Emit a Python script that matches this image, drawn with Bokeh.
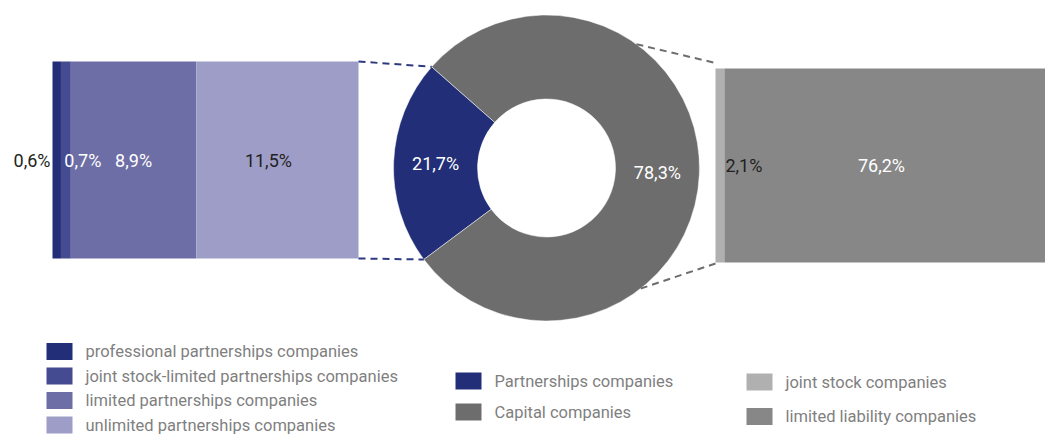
import math
from bokeh.plotting import figure
from bokeh.models import Range1d
from bokeh.core.properties import value
from bokeh.embed import file_html
from bokeh.resources import INLINE

# ---------------- data ----------------
partner_labels = ["professional partnerships companies",
                  "joint stock-limited partnerships companies",
                  "limited partnerships companies",
                  "unlimited partnerships companies"]
partner_values = [0.6, 0.7, 8.9, 11.5]
partner_text = ["0,6%", "0,7%", "8,9%", "11,5%"]

main_labels = ["Partnerships companies", "Capital companies"]
main_values = [21.7, 78.3]
main_text = ["21,7%", "78,3%"]

capital_labels = ["joint stock companies", "limited liability companies"]
capital_values = [2.1, 76.2]
capital_text = ["2,1%", "76,2%"]

# ---------------- style ----------------
partner_colors = ["#222f78", "#454b91", "#6e6ea6", "#9e9dc8"]
main_colors = ["#222f78", "#6d6d6d"]
capital_colors = ["#b0b0b0", "#878787"]
FONT = "Roboto"
DARK = "#231f20"
LEG = "#7f7f7f"
PCT = "18px"
LEGSZ = "16.5px"

W, H = 1045, 435
p = figure(width=W, height=H, output_backend="svg", toolbar_location=None,
           x_range=Range1d(0, W), y_range=Range1d(H, 0),
           min_border=0, outline_line_color=None)
p.axis.visible = False
p.grid.visible = False

def label(x, y, t, align, color):
    p.text(x=[x], y=[y], text=[t], text_align=align, text_baseline="middle",
           text_color=color, text_font=value(FONT), text_font_size=PCT)

# ---------------- left stacked bar ----------------
lx0, lw, ltop, lbot = 52, 306, 61, 258
ls = lw / sum(partner_values)
lefts, rights = [], []
acc = lx0
for v in partner_values:
    lefts.append(acc)
    acc += v * ls
    rights.append(acc)
p.quad(left=lefts, right=rights, top=[ltop] * 4, bottom=[lbot] * 4,
       fill_color=partner_colors, line_color=None)
lmid = (ltop + lbot) / 2
label(lefts[0] - 2, lmid, partner_text[0], "right", DARK)
label(rights[1] + 12, lmid, partner_text[1], "center", "white")
label((lefts[2] + rights[2]) / 2, lmid, partner_text[2], "center", "white")
label((lefts[3] + rights[3]) / 2 - 9, lmid, partner_text[3], "center", DARK)

# ---------------- donut ----------------
cx, cy, r_in, r_out = 546, 167.5, 69, 153
start0 = math.radians(138.6)
tot = sum(main_values)
starts, ends = [], []
a = start0
for v in main_values:
    starts.append(a)
    a += v / tot * 2 * math.pi
    ends.append(a)
p.annular_wedge(x=[cx] * 2, y=[cy] * 2, inner_radius=r_in, outer_radius=r_out,
                start_angle=starts, end_angle=ends, fill_color=main_colors,
                line_color="white", line_width=0.5)
r_mid = (r_in + r_out) / 2
for s, e, t in zip(starts, ends, main_text):
    m = (s + e) / 2
    label(cx + r_mid * math.cos(m), cy - r_mid * math.sin(m), t, "center", "white")

# connectors left
p.line(x=[rights[-1], cx + r_out * math.cos(starts[0])], y=[ltop, cy - r_out * math.sin(starts[0])],
       line_color="#2e3a80", line_width=2, line_dash="7 5")
p.line(x=[rights[-1], cx + r_out * math.cos(ends[0])], y=[lbot, cy - r_out * math.sin(ends[0])],
       line_color="#2e3a80", line_width=2, line_dash="7 5")

# ---------------- right stacked bar ----------------
rx0, rw, rtop, rbot = 715, 331, 68, 262
rs = rw / sum(capital_values)
clefts, crights = [], []
acc = rx0
for v in capital_values:
    clefts.append(acc)
    acc += v * rs
    crights.append(acc)
p.quad(left=clefts, right=crights, top=[rtop] * 2, bottom=[rbot] * 2,
       fill_color=capital_colors, line_color=None)
rmid = (rtop + rbot) / 2
label(crights[0] + 1, rmid, capital_text[0], "left", DARK)
label((clefts[1] + crights[1]) / 2 - 4, rmid, capital_text[1], "center", "white")

# connectors right
a1, a2 = math.radians(54), math.radians(-52)
p.line(x=[cx + r_out * math.cos(a1), rx0 - 2], y=[cy - r_out * math.sin(a1), rtop - 6],
       line_color="#6d6d6d", line_width=2, line_dash="7 5")
p.line(x=[cx + r_out * math.cos(a2), rx0], y=[cy - r_out * math.sin(a2), rbot + 1],
       line_color="#6d6d6d", line_width=2, line_dash="7 5")

# ---------------- legends ----------------
def legend(x, ys, labels, colors):
    p.quad(left=[x] * len(ys), right=[x + 26] * len(ys),
           top=[y - 8.5 for y in ys], bottom=[y + 8.5 for y in ys],
           fill_color=colors, line_color=None)
    p.text(x=[x + 39] * len(ys), y=ys, text=labels, text_align="left",
           text_baseline="middle", text_color=LEG, text_font=value(FONT),
           text_font_size=LEGSZ)

legend(46, [351, 375.5, 400, 424.5], partner_labels, partner_colors)
legend(455, [380.5, 411.5], main_labels, main_colors)
legend(746, [381.5, 416], capital_labels, capital_colors)

open("out.html", "w").write(file_html(p, INLINE))
